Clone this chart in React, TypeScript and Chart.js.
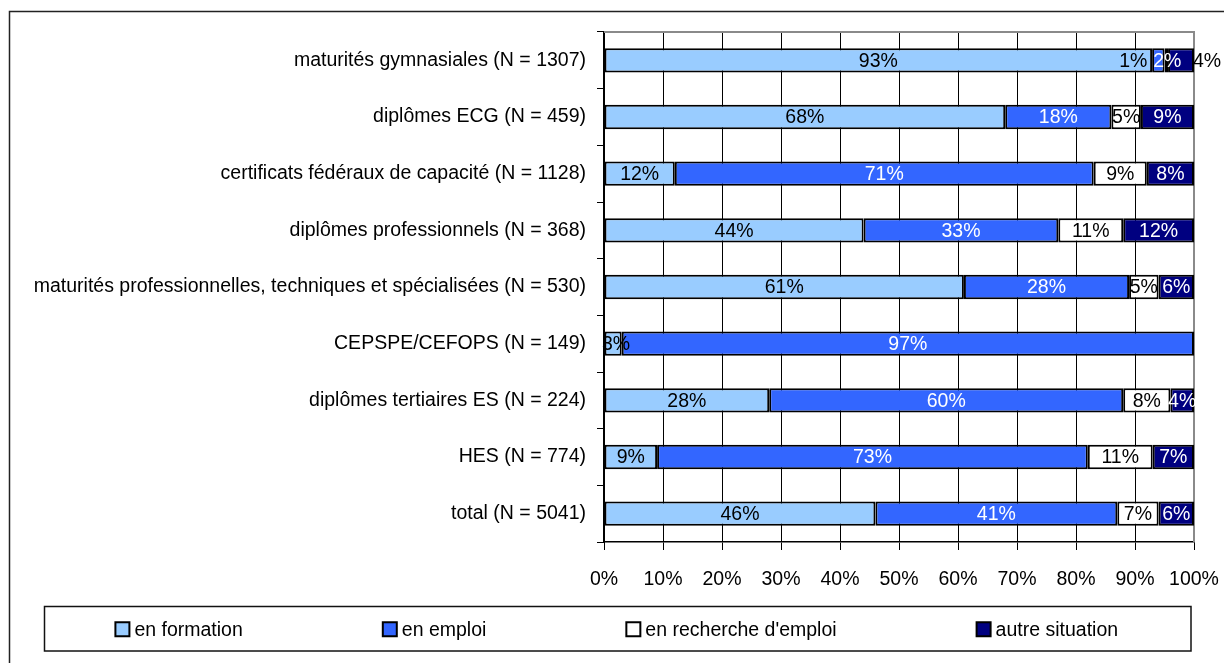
import React, { useEffect, useRef } from 'react';
import { Chart, registerables } from 'chart.js';

Chart.register(...registerables);

// ---------- DATA ----------
const categories = [
  'maturités gymnasiales (N = 1307)',
  'diplômes ECG (N = 459)',
  'certificats fédéraux de capacité (N = 1128)',
  'diplômes professionnels (N = 368)',
  'maturités professionnelles, techniques et spécialisées (N = 530)',
  'CEPSPE/CEFOPS (N = 149)',
  'diplômes tertiaires ES (N = 224)',
  'HES (N = 774)',
  'total (N = 5041)',
];
const seriesNames = ['en formation', 'en emploi', "en recherche d'emploi", 'autre situation'];
const enFormation = [92.9, 68, 12, 44, 61, 3, 28, 9, 46];
const enEmploi = [2.1, 18, 71, 33, 28, 97, 60, 73, 41];
const enRecherche = [0.6, 5, 9, 11, 5, 0, 8, 11, 7];
const autreSituation = [4.4, 9, 8, 12, 6, 0, 4, 7, 6];
const xTicks = [0, 10, 20, 30, 40, 50, 60, 70, 80, 90, 100];

// ---------- STYLE ----------
const FONT = "'Liberation Sans', Arial, sans-serif";
const FS = 19.5;
const seriesColors = ['#99CCFF', '#3366FF', '#FFFFFF', '#000080'];
const labelColors = ['#000000', '#FFFFFF', '#000000', '#FFFFFF'];
// manual label nudges (dataset-row) -> px offset / colour, as in the reference
const labelNudges: Record<string, { dx: number; color?: string }> = {
  '1-0': { dx: 9 },
  '2-0': { dx: -33 },
  '3-0': { dx: 26, color: '#000000' },
  '0-5': { dx: 3 },
};

const backgroundPlugin = {
  id: 'bg',
  beforeDraw(chart: any) {
    const { ctx, width, height } = chart;
    ctx.save();
    ctx.fillStyle = '#FFFFFF';
    ctx.fillRect(0, 0, width, height);
    ctx.restore();
  },
  afterDraw(chart: any) {
    const { ctx } = chart;
    ctx.save();
    ctx.strokeStyle = '#222222';
    ctx.lineWidth = 1.5;
    ctx.strokeRect(9.5, 11.5, 1400, 800);
    ctx.restore();
  },
};

const frameOutlinePlugin = {
  id: 'frameOutline',
  beforeDatasetsDraw(chart: any) {
    const { ctx, chartArea } = chart;
    ctx.save();
    ctx.strokeStyle = '#8A8A8A';
    ctx.lineWidth = 2;
    ctx.beginPath();
    ctx.moveTo(chartArea.left, chartArea.top);
    ctx.lineTo(chartArea.right, chartArea.top);
    ctx.lineTo(chartArea.right, chartArea.bottom);
    ctx.stroke();
    ctx.restore();
  },
};

const valueLabelPlugin = {
  id: 'valueLabels',
  afterDatasetsDraw(chart: any) {
    const { ctx } = chart;
    ctx.save();
    ctx.font = `${FS}px ${FONT}`;
    ctx.textAlign = 'center';
    ctx.textBaseline = 'middle';
    chart.data.datasets.forEach((ds: any, di: number) => {
      const meta = chart.getDatasetMeta(di);
      meta.data.forEach((el: any, i: number) => {
        const v = ds.data[i];
        if (!v || v <= 0) return;
        const nudge = labelNudges[`${di}-${i}`];
        const x = (el.x + el.base) / 2 + (nudge ? nudge.dx : 0);
        ctx.fillStyle = (nudge && nudge.color) || labelColors[di];
        ctx.fillText(`${Math.round(v)}%`, x, el.y + 1);
      });
    });
    ctx.restore();
  },
};

const legendBoxPlugin = {
  id: 'legendBox',
  afterDraw(chart: any) {
    const { ctx } = chart;
    const left = 44.5, right = 1191, top = 606.5, bottom = 651;
    ctx.save();
    ctx.strokeStyle = '#111111';
    ctx.lineWidth = 1.5;
    ctx.strokeRect(left, top, right - left, bottom - top);
    ctx.font = `${FS}px ${FONT}`;
    ctx.textBaseline = 'middle';
    ctx.textAlign = 'left';
    const sw = 14, swGap = 5, gap = 140;
    const items = chart.data.datasets.map((ds: any) => ({
      text: ds.label,
      color: ds.backgroundColor,
      w: sw + swGap + ctx.measureText(ds.label).width,
    }));
    const total = items.reduce((s: number, it: any) => s + it.w, 0) + gap * (items.length - 1);
    let x = (left + right) / 2 - total / 2 - 1;
    const cy = (top + bottom) / 2 + 0.5;
    items.forEach((it: any) => {
      ctx.fillStyle = it.color;
      ctx.fillRect(x, cy - sw / 2, sw, sw);
      ctx.strokeStyle = '#000000';
      ctx.lineWidth = 2;
      ctx.strokeRect(x, cy - sw / 2, sw, sw);
      ctx.fillStyle = '#000000';
      ctx.fillText(it.text, x + sw + swGap, cy + 1);
      x += it.w + gap;
    });
    ctx.restore();
  },
};

export default function App() {
  const canvasRef = useRef<HTMLCanvasElement | null>(null);

  useEffect(() => {
    if (!canvasRef.current) return;
    Chart.defaults.font.family = FONT;
    const series = [enFormation, enEmploi, enRecherche, autreSituation];
    const chart = new Chart(canvasRef.current, {
      type: 'bar',
      data: {
        labels: categories,
        datasets: series.map((data, i) => ({
          label: seriesNames[i],
          data,
          backgroundColor: seriesColors[i],
          borderColor: '#000000',
          borderWidth: 2,
          borderSkipped: false,
          barPercentage: 0.43,
          categoryPercentage: 1,
        })),
      },
      options: {
        indexAxis: 'y',
        responsive: false,
        animation: false,
        layout: { padding: { top: 32, right: 30, left: 0, bottom: 0 } },
        plugins: {
          legend: { display: false },
          tooltip: { enabled: false },
          title: { display: false },
        },
        scales: {
          x: {
            stacked: true,
            min: 0,
            max: 100,
            afterBuildTicks: (scale: any) => {
              scale.ticks = xTicks.map((v) => ({ value: v }));
            },
            afterFit: (scale: any) => {
              scale.height = 121;
              scale.paddingLeft = 0;
              scale.paddingRight = 0;
            },
            ticks: {
              callback: (v: any) => `${v}%`,
              color: '#000000',
              font: { size: FS, family: FONT },
              padding: 18,
              maxRotation: 0,
              autoSkip: false,
            },
            grid: {
              color: '#000000',
              lineWidth: 1,
              drawTicks: true,
              tickLength: 8,
              tickColor: '#000000',
            },
            border: { display: true, color: '#000000', width: 1.5 },
          },
          y: {
            stacked: true,
            afterFit: (scale: any) => {
              scale.width = 604;
              scale.paddingTop = 0;
              scale.paddingBottom = 0;
            },
            ticks: {
              color: '#000000',
              font: { size: FS, family: FONT },
              padding: 11,
              autoSkip: false,
            },
            grid: {
              drawOnChartArea: false,
              drawTicks: true,
              tickLength: 7,
              offset: true,
              color: '#000000',
              tickColor: '#000000',
            },
            border: { display: true, color: '#000000', width: 2 },
          },
        },
      },
      plugins: [backgroundPlugin, frameOutlinePlugin, valueLabelPlugin, legendBoxPlugin],
    } as any);
    return () => chart.destroy();
  }, []);

  return (
    <div style={{ position: 'fixed', left: 0, top: 0, width: 1224, height: 663, background: '#fff' }}>
      <canvas ref={canvasRef} width={1224} height={663} style={{ display: 'block', width: 1224, height: 663 }} />
    </div>
  );
}
